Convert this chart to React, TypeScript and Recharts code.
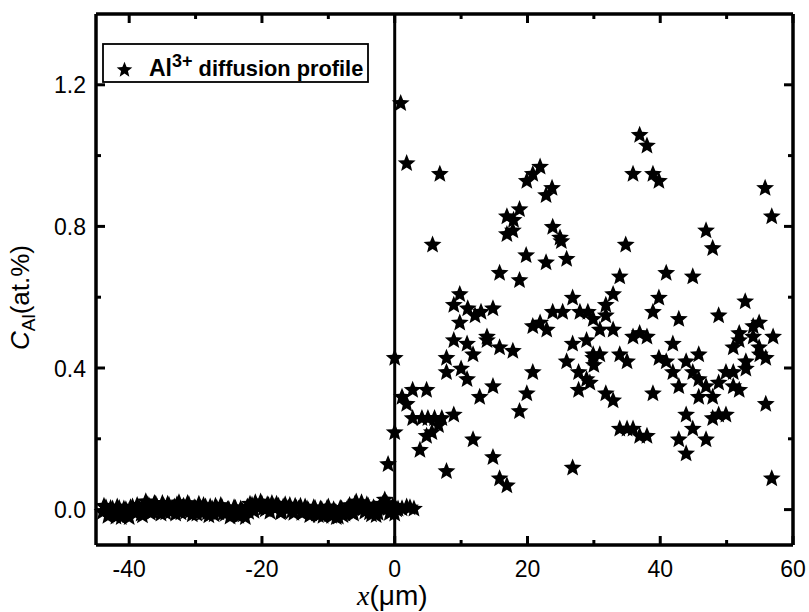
import React from 'react';
import { ScatterChart, Scatter, XAxis, YAxis, ReferenceLine, Legend } from 'recharts';

// ---- data: flat (no diffusion) side, x in um, C_Al in at.% ----
const flatX = [-44.0, -43.5, -43.0, -42.5, -42.0, -41.5, -41.0, -40.5, -40.0, -39.5, -39.0, -38.5, -38.0, -37.5, -37.0, -36.5, -36.0, -35.5, -35.0, -34.5, -34.0, -33.5, -33.0, -32.5, -32.0, -31.5, -31.0, -30.5, -30.0, -29.5, -29.0, -28.5, -28.0, -27.5, -27.0, -26.5, -26.0, -25.5, -25.0, -24.5, -24.0, -23.5, -23.0, -22.5, -22.0, -21.5, -21.0, -20.5, -20.0, -19.5, -19.0, -18.5, -18.0, -17.5, -17.0, -16.5, -16.0, -15.5, -15.0, -14.5, -14.0, -13.5, -13.0, -12.5, -12.0, -11.5, -11.0, -10.5, -10.0, -9.5, -9.0, -8.5, -8.0, -7.5, -7.0, -6.5, -6.0, -5.5, -5.0, -4.5, -4.0, -3.5, -3.0, -2.5, -2.0, -1.5, -1.0, -0.5, 0.0, 0.0, 0.5, 1.1, 1.8, 2.9];
const flatY = [-0.005, 0.008, -0.012, 0.004, -0.018, 0.006, -0.01, 0.002, -0.02, 0.01, -0.008, 0.005, -0.015, 0.025, 0.012, -0.004, 0.018, 0.003, 0.02, -0.006, 0.014, 0.002, -0.01, 0.022, 0.008, -0.004, 0.016, -0.012, 0.006, 0.018, -0.008, 0.01, -0.015, 0.004, 0.012, -0.006, 0.008, -0.01, 0.003, -0.012, 0.006, -0.016, 0.0, -0.02, -0.005, 0.015, 0.022, 0.008, 0.018, 0.002, 0.014, 0.02, 0.005, 0.012, -0.004, 0.016, 0.006, -0.002, 0.012, 0.004, -0.008, 0.01, 0.0, -0.01, 0.006, -0.014, 0.002, -0.006, 0.01, -0.016, -0.004, -0.018, 0.004, -0.01, 0.008, -0.006, 0.018, 0.006, 0.022, -0.004, 0.012, -0.012, 0.004, -0.008, 0.01, 0.03, 0.006, -0.004, -0.01, 0.01, 0.004, 0.005, 0.01, 0.004];
const flatX2 = [-43.8, -43.2, -42.8, -42.2, -41.8, -41.2, -40.8, -40.2, -39.8, -39.2, -38.8, -38.2, -37.8, -37.2, -36.8, -36.2, -35.8, -35.2, -34.8, -34.2, -33.8, -33.2, -32.8, -32.2, -31.8, -31.2, -30.8, -30.2, -29.8, -29.2, -28.8, -28.2, -27.8, -27.2, -26.8, -26.2, -25.8, -25.2, -24.8, -24.2, -23.8, -23.2, -22.8, -22.2, -21.8, -21.2, -20.8, -20.2, -19.8, -19.2, -18.8, -18.2, -17.8, -17.2, -16.8, -16.2, -15.8, -15.2, -14.8, -14.2, -13.8, -13.2, -12.8, -12.2, -11.8, -11.2, -10.8, -10.2, -9.8, -9.2, -8.8, -8.2, -7.8, -7.2, -6.8, -6.2, -5.8, -5.2, -4.8, -4.2, -3.8, -3.2, -2.8, -2.2, -1.8, -1.2, -0.8, -0.3, 0.3, 2.3];
const flatY2 = [0.012, -0.016, 0.006, -0.008, 0.01, -0.02, 0.004, -0.014, 0.008, -0.006, 0.014, -0.01, 0.004, 0.016, -0.008, 0.02, 0.01, -0.01, 0.012, 0.018, -0.004, 0.01, 0.016, -0.006, 0.012, 0.02, -0.002, 0.008, -0.01, 0.006, 0.014, -0.006, 0.01, -0.012, 0.006, 0.014, -0.008, 0.002, -0.018, 0.008, -0.006, 0.004, -0.012, 0.01, 0.018, -0.002, 0.012, 0.024, 0.006, 0.016, -0.004, 0.01, 0.018, -0.006, 0.01, 0.004, 0.014, -0.008, 0.006, 0.012, -0.006, 0.004, -0.014, 0.008, -0.01, 0.004, -0.016, 0.006, -0.012, 0.002, -0.02, 0.006, -0.014, 0.002, 0.014, -0.01, 0.024, 0.01, 0.004, 0.016, -0.006, 0.008, -0.014, 0.012, 0.018, 0.02, -0.008, 0.012, 0.002, 0.008];

// ---- data: diffusion side ----
const profileX = [0.9, 1.8, 6.8, 5.7, 21.9, 20.8, 19.9, 23.7, 22.8, 18.8, 16.9, 17.9, 17.8, 16.9, 23.8, 24.9, 25.1, 19.8, 22.8, 25.9, 15.8, 18.8, 9.8, 8.9, 11.0, 12.1, 13.0, 14.8, 9.8, 26.8, 23.8, 25.3, 27.9, 29.1, 29.9, 20.8, 21.9, 22.9, 36.9, 38.0, 35.9, 38.9, 39.8, 55.8, 56.8, 46.9, 47.9, 34.8, 40.9, 44.9, 33.9, 32.9, 31.8, 31.8, 39.8, 38.9, 42.8, 48.8, 52.8, 54.0, 54.9, 13.9, 13.9, 8.9, 10.9, 11.8, 15.8, 17.8, 26.8, 28.9, 25.9, 27.7, 28.9, 27.7, 29.9, 30.0, 7.8, 7.8, 10.0, 10.9, 20.8, 19.9, 18.8, 14.8, 12.8, 0.0, 0.0, 1.1, 2.7, 4.8, 1.8, 2.7, 4.1, 5.0, 6.0, 7.1, 8.9, 6.6, 5.6, 4.8, 3.8, 11.8, 14.8, 15.8, 16.9, 7.8, 26.8, -1.0, 30.9, 32.9, 35.9, 36.9, 38.0, 41.9, 45.8, 51.9, 54.0, 57.0, 51.0, 51.9, 54.9, 55.0, 55.9, 29.9, 30.9, 33.9, 35.0, 39.8, 40.9, 43.9, 41.9, 44.9, 45.8, 46.9, 47.9, 45.8, 42.8, 48.8, 49.9, 51.0, 51.0, 51.9, 52.9, 52.9, 29.4, 31.8, 32.9, 38.9, 43.9, 47.9, 48.8, 49.9, 44.9, 46.9, 42.8, 43.9, 55.9, 56.8, 33.9, 35.0, 35.9, 36.9, 38.0];
const profileY = [1.15, 0.98, 0.95, 0.75, 0.97, 0.95, 0.93, 0.91, 0.89, 0.85, 0.83, 0.82, 0.79, 0.78, 0.80, 0.77, 0.76, 0.72, 0.70, 0.71, 0.67, 0.65, 0.61, 0.58, 0.57, 0.55, 0.56, 0.57, 0.53, 0.60, 0.56, 0.56, 0.56, 0.56, 0.54, 0.52, 0.53, 0.51, 1.06, 1.03, 0.95, 0.95, 0.93, 0.91, 0.83, 0.79, 0.74, 0.75, 0.67, 0.66, 0.66, 0.61, 0.58, 0.55, 0.60, 0.56, 0.54, 0.55, 0.59, 0.52, 0.53, 0.49, 0.48, 0.48, 0.47, 0.44, 0.46, 0.45, 0.47, 0.48, 0.42, 0.39, 0.37, 0.34, 0.43, 0.41, 0.43, 0.39, 0.40, 0.37, 0.39, 0.33, 0.28, 0.35, 0.32, 0.43, 0.22, 0.32, 0.34, 0.34, 0.30, 0.26, 0.26, 0.26, 0.26, 0.26, 0.27, 0.24, 0.22, 0.21, 0.17, 0.20, 0.15, 0.09, 0.07, 0.11, 0.12, 0.13, 0.51, 0.51, 0.49, 0.50, 0.49, 0.47, 0.44, 0.50, 0.49, 0.49, 0.46, 0.48, 0.46, 0.44, 0.43, 0.44, 0.44, 0.44, 0.42, 0.43, 0.42, 0.42, 0.39, 0.39, 0.37, 0.35, 0.32, 0.32, 0.35, 0.36, 0.39, 0.39, 0.35, 0.34, 0.40, 0.42, 0.36, 0.33, 0.31, 0.33, 0.27, 0.26, 0.27, 0.27, 0.23, 0.20, 0.20, 0.16, 0.30, 0.09, 0.23, 0.23, 0.23, 0.21, 0.21];

const xTicks = [-40, -30, -20, -10, 0, 10, 20, 30, 40, 50, 60];
const xLabeled = [-40, -20, 0, 20, 40, 60];
const yTicks = [0, 0.2, 0.4, 0.6, 0.8, 1.0, 1.2];
const yLabeled = [0, 0.4, 0.8, 1.2];
const seriesName = 'diffusion profile';

const data = [
  ...flatX.map((x, i) => ({ x, y: flatY[i] })),
  ...flatX2.map((x, i) => ({ x, y: flatY2[i] })),
  ...profileX.map((x, i) => ({ x, y: profileY[i] })),
];

// ---- layout ----
const W = 809;
const H = 612;
const PLOT_LEFT = 96;
const PLOT_RIGHT = 793;
const PLOT_TOP = 14;
const PLOT_BOTTOM = 545;
const FONT = 'Arial, "Liberation Sans", Helvetica, sans-serif';
const STAR_R = 9.4;
const STAR_INNER = 0.44;

const starPath = (cx: number, cy: number, R: number) => {
  const pts: string[] = [];
  for (let i = 0; i < 10; i++) {
    const a = -Math.PI / 2 + (i * Math.PI) / 5;
    const r = i % 2 === 0 ? R : R * STAR_INNER;
    pts.push(`${(cx + r * Math.cos(a)).toFixed(2)},${(cy + r * Math.sin(a)).toFixed(2)}`);
  }
  return `M${pts.join('L')}Z`;
};

const StarShape = (props: any) => {
  const { cx, cy } = props;
  if (cx == null || cy == null) return null;
  return <path d={starPath(cx, cy + 0.8, STAR_R)} fill="#000" />;
};

const XTick = (props: any) => {
  const { x, payload } = props;
  const v = payload.value;
  const major = xLabeled.includes(v);
  const len = major ? 9 : 5;
  return (
    <g>
      <line x1={x} x2={x} y1={PLOT_BOTTOM} y2={PLOT_BOTTOM - len} stroke="#000" strokeWidth={3} />
      <line x1={x} x2={x} y1={PLOT_TOP} y2={PLOT_TOP + len} stroke="#000" strokeWidth={3} />
      {major && (
        <text x={x} y={577} textAnchor="middle" fontFamily={FONT} fontSize={23} fill="#000">
          {String(v)}
        </text>
      )}
    </g>
  );
};

const YTick = (props: any) => {
  const { y, payload } = props;
  const v = payload.value;
  const major = yLabeled.some((t) => Math.abs(t - v) < 1e-9);
  const len = major ? 9 : 5;
  return (
    <g>
      <line x1={PLOT_LEFT} x2={PLOT_LEFT + len} y1={y} y2={y} stroke="#000" strokeWidth={3} />
      <line x1={PLOT_RIGHT} x2={PLOT_RIGHT - len} y1={y} y2={y} stroke="#000" strokeWidth={3} />
      {major && (
        <text x={86} y={y + 8.5} textAnchor="end" fontFamily={FONT} fontSize={23} fill="#000">
          {v.toFixed(1)}
        </text>
      )}
    </g>
  );
};

const YTitle = () => (
  <text
    x={29}
    y={350}
    transform="rotate(-90, 29, 350)"
    fontFamily={FONT}
    fontSize={26}
    fill="#000"
  >
    <tspan fontStyle="italic">C</tspan>
    <tspan fontSize={19} dy={6}>Al</tspan>
    <tspan dy={-6}>(at.%)</tspan>
  </text>
);

const XTitle = () => (
  <text x={357} y={605} fontSize={28} fill="#000" fontFamily={FONT}>
    <tspan fontFamily='"Times New Roman", "Liberation Serif", serif' fontStyle="italic">x</tspan>
    <tspan>(μm)</tspan>
  </text>
);

const LegendBox = () => (
  <svg width={268} height={41} style={{ display: 'block' }}>
    <rect x={1} y={1} width={265} height={38} fill="#fff" stroke="#000" strokeWidth={1.8} />
    <path d={starPath(22.5, 27, 8.2)} fill="#000" />
    <text x={47} y={33} fontFamily={FONT} fontWeight="bold" fontSize={21.8} fill="#000">
      <tspan fontSize={23}>Al</tspan>
      <tspan fontSize={18} dy={-9}>3+</tspan>
      <tspan dy={9}>{' ' + seriesName}</tspan>
    </text>
  </svg>
);

export default function App() {
  return (
    <div style={{ position: 'absolute', left: 0, top: 0, width: W, height: H, background: '#fff' }}>
      <ScatterChart width={W} height={H} margin={{ top: PLOT_TOP, right: W - PLOT_RIGHT, bottom: 0, left: 0 }}>
        <XAxis
          dataKey="x"
          type="number"
          domain={[-45, 60]}
          ticks={xTicks}
          interval={0}
          height={H - PLOT_BOTTOM}
          axisLine={{ stroke: '#000', strokeWidth: 3.5 }}
          tickLine={false}
          tick={<XTick />}
          label={{ content: () => <XTitle /> }}
        />
        <YAxis
          dataKey="y"
          type="number"
          domain={[-0.1, 1.4]}
          ticks={yTicks}
          interval={0}
          width={PLOT_LEFT}
          axisLine={{ stroke: '#000', strokeWidth: 3.5 }}
          tickLine={false}
          tick={<YTick />}
          label={{ content: () => <YTitle /> }}
        />
        <ReferenceLine y={1.4} stroke="#000" strokeWidth={3.5} ifOverflow="visible" />
        <ReferenceLine x={60} stroke="#000" strokeWidth={3.5} ifOverflow="visible" />
        <ReferenceLine x={0} stroke="#000" strokeWidth={3} ifOverflow="visible" />
        <Legend
          layout="horizontal"
          verticalAlign="middle"
          align="center"
          wrapperStyle={{ position: 'absolute', left: 102, top: 43, width: 268 }}
          content={() => <LegendBox />}
        />
        <Scatter
          name={seriesName}
          data={data}
          shape={<StarShape />}
          fill="#000"
          isAnimationActive={false}
        />
      </ScatterChart>
    </div>
  );
}
